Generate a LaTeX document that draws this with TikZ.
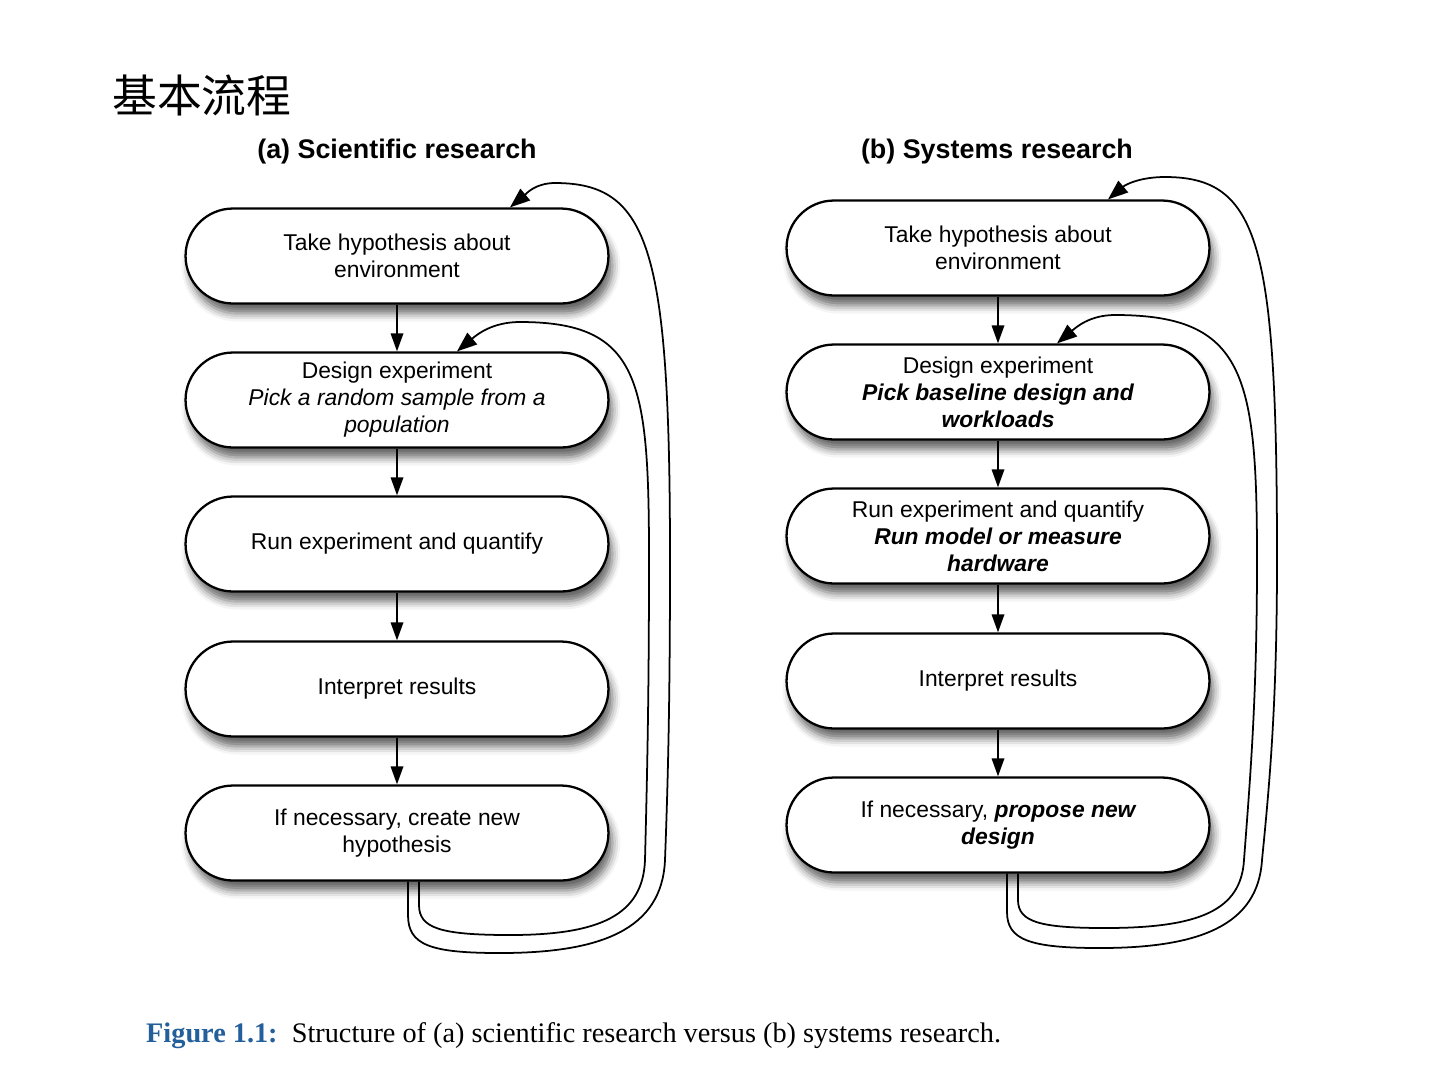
\documentclass[tikz,border=0pt]{standalone}
\usepackage{fontspec}
\setmainfont{Liberation Sans}
\newfontfamily\cjkfont{Noto Sans CJK SC}
\newfontfamily\capfont{Liberation Serif}
\usepackage{tikz}
\usetikzlibrary{arrows.meta, shadows.blur}

\definecolor{figblue}{RGB}{35,95,155}
\newcommand{\bfit}{\bfseries\itshape}

\tikzset{
    stage/.style={draw, line width=1.3pt, fill=white, rounded corners=0.95cm,
        minimum width=8.46cm, minimum height=1.9cm, align=center,
        font=\fontsize{13pt}{15.4pt}\selectfont,
        blur shadow={shadow xshift=0.08cm, shadow yshift=-0.2cm,
            shadow blur radius=0.16cm, shadow opacity=60}},
    flow/.style={line width=1pt, -{Triangle[length=0.36cm, width=0.25cm]}},
    loopback/.style={flow, -{Triangle[length=0.4cm, width=0.3cm]}},
    panel/.style={font=\fontsize{15.3pt}{18pt}\selectfont\bfseries}
}

\begin{document}
\begin{tikzpicture}[x=0.02cm, y=-0.02cm]
    \useasboundingbox (0,0) rectangle (1440,1080);

    % Slide title
    \node[anchor=west, font=\cjkfont\fontsize{25.5pt}{30pt}\selectfont] (title) at (106,95) {基本流程};

    % Panel headings
    \node[panel] (scihead) at (397,152) {(a) Scientific research};
    \node[panel] (syshead) at (997,152) {(b) Systems research};

    % (a) Scientific research
    \node[stage] (sci1) at (397,256) {Take hypothesis about\\environment};
    \node[stage] (sci2) at (397,400) {Design experiment\\{\itshape Pick a random sample from a}\\{\itshape population}};
    \node[stage] (sci3) at (397,544) {Run experiment and quantify};
    \node[stage] (sci4) at (397,689) {Interpret results};
    \node[stage] (sci5) at (397,833) {If necessary, create new\\hypothesis};

    % (b) Systems research
    \node[stage] (sys1) at (998,248) {Take hypothesis about\\environment};
    \node[stage] (sys2) at (998,392) {Design experiment\\{\bfit Pick baseline design and}\\{\bfit workloads}};
    \node[stage] (sys3) at (998,536) {Run experiment and quantify\\{\bfit Run model or measure}\\{\bfit hardware}};
    \node[stage] (sys4) at (998,681) {Interpret results};
    \node[stage] (sys5) at (998,825) {If necessary, {\bfit propose new}\\{\bfit design}};

    % Straight steps
    \foreach \a/\b in {1/2, 2/3, 3/4, 4/5} {
        \draw[flow] (sci\a.south) -- (sci\b.north);
        \draw[flow] (sys\a.south) -- (sys\b.north);
    }

    % Feedback loops (a)
    \draw[loopback] ([shift={(11,0)}]sci5.south) -- (408,915)
        .. controls (408,945) and (430,953) .. (500,953)
        .. controls (600,953) and (662,930) .. (665,860)
        .. controls (668,780) and (670,700) .. (670,560)
        .. controls (670,250) and (650,183) .. (555,183)
        to[out=180,in=40] ([shift={(113,0)}]sci1.north);
    \draw[loopback] ([shift={(22,0)}]sci5.south) -- (419,905)
        .. controls (419,928) and (440,935) .. (510,935)
        .. controls (600,935) and (643,915) .. (645,860)
        .. controls (647,780) and (649,700) .. (649,560)
        .. controls (649,380) and (640,322) .. (520,322)
        to[out=180,in=40] ([shift={(60,0)}]sci2.north);

    % Feedback loops (b)
    \draw[loopback] ([shift={(9,0)}]sys5.south) -- (1007,912)
        .. controls (1007,940) and (1030,948) .. (1100,948)
        .. controls (1200,948) and (1258,925) .. (1262,860)
        .. controls (1270,780) and (1277,700) .. (1277,560)
        .. controls (1277,245) and (1260,177) .. (1165,177)
        to[out=180,in=40] ([shift={(110,0)}]sys1.north);
    \draw[loopback] ([shift={(20,0)}]sys5.south) -- (1018,900)
        .. controls (1018,922) and (1040,928) .. (1105,928)
        .. controls (1200,928) and (1241,910) .. (1244,860)
        .. controls (1250,780) and (1257,700) .. (1257,560)
        .. controls (1257,375) and (1245,315) .. (1115,315)
        to[out=180,in=40] ([shift={(59,0)}]sys2.north);

    % Caption
    \node[anchor=west, font=\capfont\fontsize{16.1pt}{19pt}\selectfont] (caption) at (140,1036)
        {{\color{figblue}\bfseries Figure 1.1:}\enspace Structure of (a) scientific research versus (b) systems research.};
\end{tikzpicture}
\end{document}
